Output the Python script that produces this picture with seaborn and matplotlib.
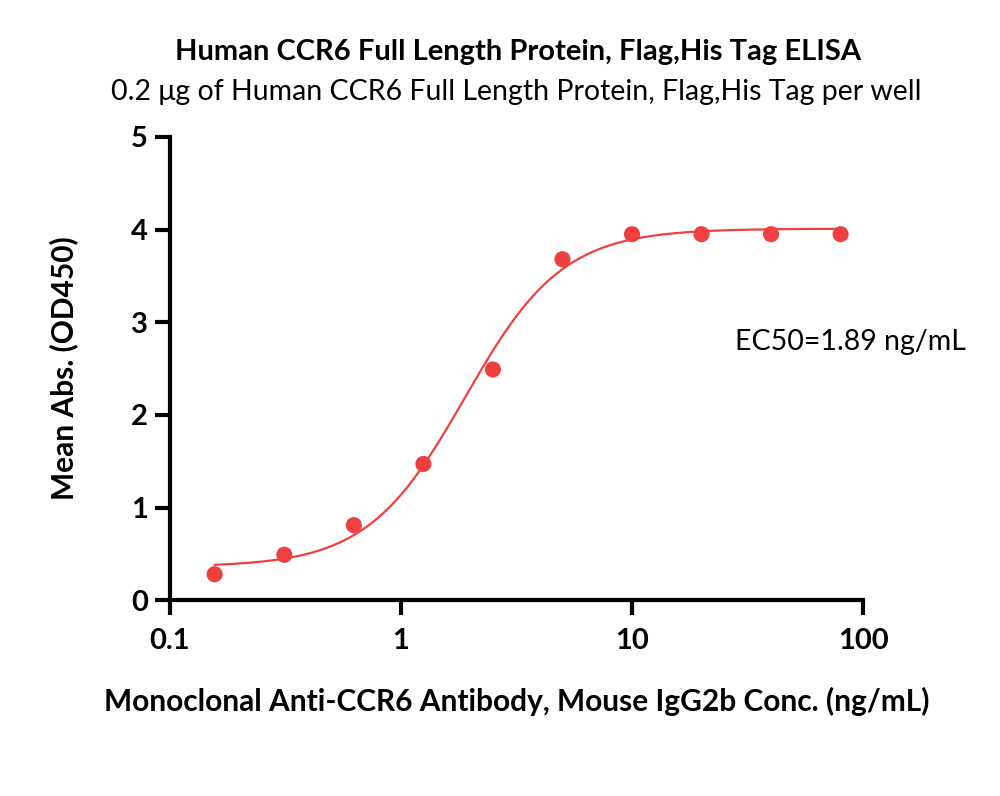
import numpy as np
import pandas as pd
import seaborn as sns
import matplotlib
matplotlib.use('Agg')
import matplotlib.pyplot as plt
from matplotlib.ticker import FixedLocator, NullLocator

# ELISA data
conc = [0.156, 0.3125, 0.625, 1.25, 2.5, 5, 10, 20, 40, 80]
od450 = [0.28, 0.49, 0.81, 1.47, 2.49, 3.68, 3.95, 3.95, 3.95, 3.95]

# 4PL fit parameters
bottom = 0.36
top = 4.01
ec50 = 1.89
hill = 2.05

x_ticks = [0.1, 1, 10, 100]
x_tick_labels = ['0.1', '1', '10', '100']
y_ticks = [0, 1, 2, 3, 4, 5]

red = '#EF4040'

sns.set_style('ticks')
plt.rcParams['font.family'] = ['Lato', 'DejaVu Sans']
for k in ['text.color', 'axes.labelcolor', 'xtick.color', 'ytick.color', 'axes.edgecolor']:
    plt.rcParams[k] = 'black'

df = pd.DataFrame({'conc': conc, 'od': od450})
xfit = np.logspace(np.log10(conc[0]), np.log10(conc[-1]), 300)
yfit = bottom + (top - bottom) / (1 + (ec50 / xfit) ** hill)
fit = pd.DataFrame({'conc': xfit, 'od': yfit})

fig = plt.figure(figsize=(10, 7.96), dpi=100)
ax = fig.add_axes([0.17, 0.246, 0.693, 0.582])

sns.lineplot(data=fit, x='conc', y='od', ax=ax, color=red, lw=1.6)
sns.scatterplot(data=df, x='conc', y='od', ax=ax, color=red, s=135,
                edgecolor='none', zorder=3)

ax.set_xscale('log')
ax.set_xlim(0.1, 100)
ax.set_ylim(0, 5)
ax.xaxis.set_major_locator(FixedLocator(x_ticks))
ax.xaxis.set_minor_locator(NullLocator())
ax.set_xticklabels(x_tick_labels)
ax.set_yticks(y_ticks)

for s in ['top', 'right']:
    ax.spines[s].set_visible(False)
for s in ['left', 'bottom']:
    ax.spines[s].set_linewidth(3)
ax.tick_params(width=3, length=11, labelsize=21, pad=5)
for lbl in ax.get_xticklabels() + ax.get_yticklabels():
    lbl.set_fontweight('bold')
ax.tick_params(axis='x', pad=9)

ax.set_xlabel('Monoclonal Anti-CCR6 Antibody, Mouse IgG2b Conc. (ng/mL)',
              fontsize=21.5, fontweight='bold', labelpad=24)
ax.set_ylabel('Mean Abs. (OD450)', fontsize=21.5, fontweight='bold', labelpad=38)

ax.text(28, 2.79, 'EC50=1.89 ng/mL', fontsize=20.5, ha='left', va='center')

fig.text(0.518, 0.935, 'Human CCR6 Full Length Protein, Flag,His Tag ELISA',
         fontsize=21, fontweight='bold', ha='center', va='center')
fig.text(0.516, 0.885, '0.2 \u03bcg of Human CCR6 Full Length Protein, Flag,His Tag per well',
         fontsize=20.5, ha='center', va='center')

fig.savefig('out.png', dpi=100)
